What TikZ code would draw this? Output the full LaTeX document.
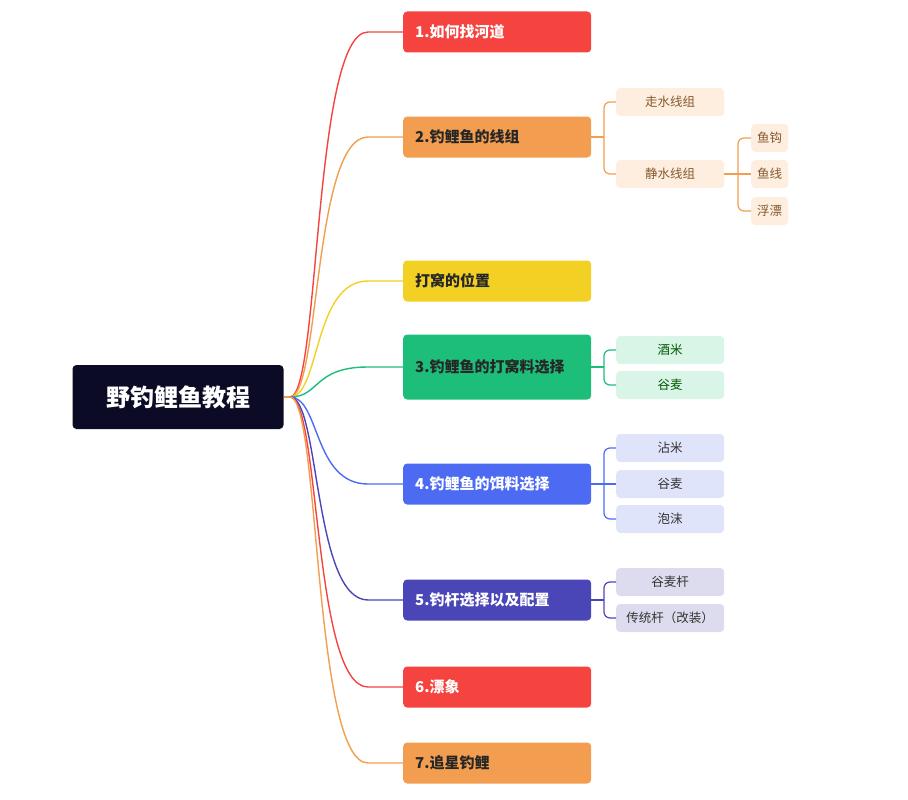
\documentclass[tikz,border=0pt]{standalone}
\usepackage{fontspec}
\setmainfont{Noto Sans CJK SC}
\usetikzlibrary{calc}
\definecolor{rootc}{HTML}{0B0B26}
\definecolor{redc}{HTML}{F5443F}
\definecolor{orgc}{HTML}{F29D4F}
\definecolor{yelc}{HTML}{F2D024}
\definecolor{grnc}{HTML}{1DBD7A}
\definecolor{bluc}{HTML}{4D6BF2}
\definecolor{indc}{HTML}{4A46B8}
\definecolor{orgl}{HTML}{FDEEE0}
\definecolor{grnl}{HTML}{D9F5E8}
\definecolor{blul}{HTML}{DFE4FB}
\definecolor{indl}{HTML}{DCDCEE}
\begin{document}
\begin{tikzpicture}
[x=1pt,y=-1pt,
topic/.style={rounded corners=4pt,anchor=west,minimum width=188pt,minimum height=41pt,
  text width=164pt,inner xsep=12pt,align=left,font=\fontsize{15}{21}\selectfont\bfseries},
leaf/.style={rounded corners=4pt,anchor=west,minimum height=28pt,inner xsep=6pt,
  font=\fontsize{12.5}{14}\selectfont},
wide/.style={minimum width=108pt},
link/.style={line width=1.4pt},
]
\useasboundingbox (0,0) rectangle (908,800);
\node[fill=rootc,text=white,rounded corners=4pt,minimum width=211pt,minimum height=64pt,
  font=\fontsize{24}{28}\selectfont\bfseries] (root) at (178,397) {野钓鲤鱼教程};
\coordinate (hub) at (290,397);
\draw[orgc,link] (root.east) -- (hub);

% main topics
\node[topic,fill=redc,text=white] (t1) at (403,32) {1.如何找河道};
\node[topic,fill=orgc,text=black!85] (t2) at (403,137) {2.钓鲤鱼的线组};
\node[topic,fill=yelc,text=black!85] (t3) at (403,281) {打窝的位置};
\node[topic,fill=grnc,text=black!85,minimum height=65pt] (t4) at (403,367) {3.钓鲤鱼的打窝料选择};
\node[topic,fill=bluc,text=white] (t5) at (403,484) {4.钓鲤鱼的饵料选择};
\node[topic,fill=indc,text=white] (t6) at (403,600) {5.钓杆选择以及配置};
\node[topic,fill=redc,text=white] (t7) at (403,687) {6.漂象};
\node[topic,fill=orgc,text=black!85] (t8) at (403,763) {7.追星钓鲤};

\foreach \t/\c in {t1/redc,t2/orgc,t3/yelc,t4/grnc,t5/bluc,t6/indc,t7/redc,t8/orgc}
  \draw[\c,link] (hub) .. controls ($(hub)+(30,0)$) and ($(\t.west)+(-90,0)$)
    .. ($(\t.west)+(-35,0)$) -- (\t.west);

% leaves
\node[leaf,wide,fill=orgl,text=brown!70!black] (l21) at (616,102) {走水线组};
\node[leaf,wide,fill=orgl,text=brown!70!black] (l22) at (616,174) {静水线组};
\node[leaf,fill=orgl,text=brown!70!black] (l221) at (751,138) {鱼钩};
\node[leaf,fill=orgl,text=brown!70!black] (l222) at (751,174) {鱼线};
\node[leaf,fill=orgl,text=brown!70!black] (l223) at (751,211) {浮漂};
\node[leaf,wide,fill=grnl,text=green!35!black] (l41) at (616,350) {酒米};
\node[leaf,wide,fill=grnl,text=green!35!black] (l42) at (616,385) {谷麦};
\node[leaf,wide,fill=blul,text=black!80] (l51) at (616,448) {沾米};
\node[leaf,wide,fill=blul,text=black!80] (l52) at (616,484) {谷麦};
\node[leaf,wide,fill=blul,text=black!80] (l53) at (616,519) {泡沫};
\node[leaf,wide,fill=indl,text=black!80] (l61) at (616,582) {谷麦杆};
\node[leaf,wide,fill=indl,text=black!80] (l62) at (616,618) {传统杆（改装）};

\draw[orgc,line width=1.2pt] (t2.east) -- (604,137);
\draw[orgc,line width=1.2pt,rounded corners=6pt] (l21.west) -- (604,102) -- (604,174) -- (l22.west);
\draw[orgc,line width=1.2pt] (l22.east) -- (738,174) -- (l222.west);
\draw[orgc,line width=1.2pt,rounded corners=6pt] (l221.west) -- (738,138) -- (738,211) -- (l223.west);
\draw[grnc,line width=1.2pt] (t4.east) -- (604,367);
\draw[grnc,line width=1.2pt,rounded corners=6pt] (l41.west) -- (604,350) -- (604,385) -- (l42.west);
\draw[bluc,line width=1.2pt] (t5.east) -- (l52.west);
\draw[bluc,line width=1.2pt,rounded corners=6pt] (l51.west) -- (604,448) -- (604,519) -- (l53.west);
\draw[indc,line width=1.2pt] (t6.east) -- (604,600);
\draw[indc,line width=1.2pt,rounded corners=6pt] (l61.west) -- (604,582) -- (604,618) -- (l62.west);
\end{tikzpicture}
\end{document}
